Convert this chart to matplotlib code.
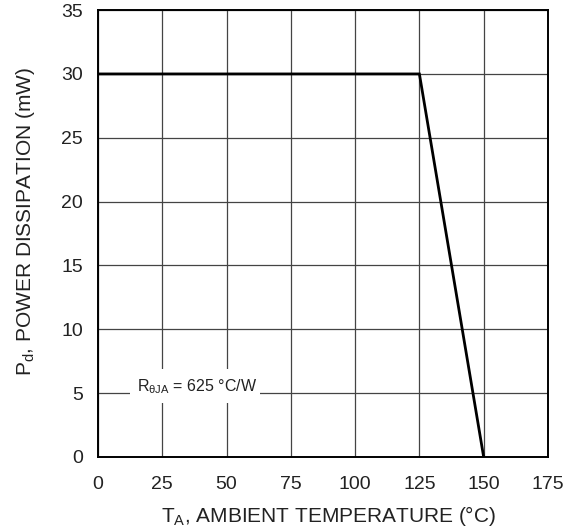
import matplotlib.pyplot as plt
from matplotlib.patches import Rectangle

plt.rcParams['font.family'] = ['Liberation Sans', 'DejaVu Sans']

# derating curve: ambient temperature (C) vs power dissipation (mW)
temp = [0, 125, 150]
power = [30, 30, 0]

xticks = [0, 25, 50, 75, 100, 125, 150, 175]
yticks = [0, 5, 10, 15, 20, 25, 30, 35]

fig = plt.figure(figsize=(5.78, 5.32), dpi=100)
ax = fig.add_axes([0.1696, 0.141, 0.7784, 0.840])

ax.plot(temp, power, color='black', linewidth=2, solid_joinstyle='miter', zorder=3)

ax.set_xlim(0, 175)
ax.set_ylim(0, 35)
ax.set_xticks(xticks)
ax.set_yticks(yticks)
ax.grid(True, color='#444444', linewidth=0.9)
ax.tick_params(length=0, labelsize=14, colors='#222222')
ax.tick_params(axis='x', pad=14)
ax.tick_params(axis='y', pad=11)

for s in ax.spines.values():
    s.set_linewidth(1.4)
    s.set_zorder(5)

ax.set_xlabel('T$_\\mathregular{A}$, AMBIENT TEMPERATURE (°C)', fontsize=15, color='#222222')
ax.set_ylabel('P$_\\mathregular{d}$, POWER DISSIPATION (mW)', fontsize=15, color='#222222')
ax.xaxis.set_label_coords(0.512, -0.105)
ax.yaxis.set_label_coords(-0.135, 0.526)

# blank the grid behind the thermal resistance note
ax.add_patch(Rectangle((12.5, 4.25), 50.5, 2.65, facecolor='white', edgecolor='none', zorder=2))
ax.text(38.6, 5.15, 'R$_{\\mathregular{\\theta JA}}$ = 625 °C/W', fontsize=11.5, ha='center',
        va='baseline', color='#222222', zorder=4)

fig.savefig('out.png', dpi=100)
